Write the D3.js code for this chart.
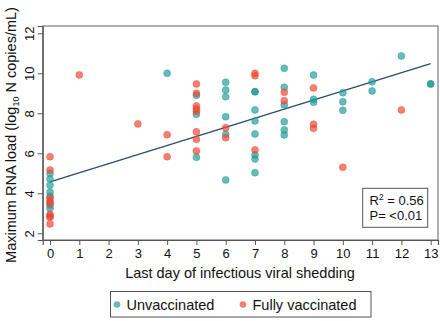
<!DOCTYPE html>
<html>
<head>
<meta charset="utf-8">
<script src="https://cdn.jsdelivr.net/npm/d3@7"></script>
<style>
  html, body { margin: 0; padding: 0; background: #fff; }
  svg { display: block; font-family: 'Liberation Sans', Arial, sans-serif; }
</style>
</head>
<body>
<div id="chart"></div>
<script>
// days of last infectious shedding and max RNA load (log10)
const unvaxDays = [0, 0, 0, 0, 0, 0, 0, 4, 5, 5, 5, 6, 6, 6, 6, 6, 6,
  7, 7, 7, 7, 7, 7, 7, 7, 8, 8, 8, 8, 8, 8, 9, 9, 9, 10, 10, 10, 11, 11, 12, 13, 13]
const unvaxLoad = [5.0, 4.72, 4.4, 4.05, 3.85, 3.42, 3.25, 10.0, 8.9, 7.95, 5.8,
  9.55, 9.17, 8.83, 7.83, 6.95, 4.67, 9.08, 9.08, 8.17, 7.62, 6.97, 5.92, 5.72, 5.03,
  10.25, 9.3, 8.42, 7.58, 7.17, 6.92, 9.92, 8.7, 8.55, 9.03, 8.58, 8.15, 9.58, 9.12,
  10.87, 9.47, 9.47]

const vaxDays = [0, 0, 0, 0, 0, 0, 0, 0, 0, 1, 3, 4, 4, 5, 5, 5, 5, 5, 5, 5, 5,
  6, 6, 7, 7, 7, 8, 8, 9, 9, 9, 10, 12]
const vaxLoad = [5.83, 5.17, 3.75, 3.6, 3.5, 2.95, 2.85, 2.8, 2.47, 9.92, 7.47, 6.93, 5.83,
  9.47, 9.0, 8.37, 8.22, 8.1, 7.08, 6.7, 6.12, 7.28, 6.78, 10.0, 9.88, 6.17,
  9.05, 8.63, 9.27, 7.45, 7.25, 5.3, 8.17]

const xTicks = d3.range(0, 14)
const yTicks = [2, 4, 6, 8, 10, 12]

// fitted line shown on the figure
const fitIntercept = 4.57
const fitSlope = 0.455
const fitRange = [0, 13]
const statLines = ['R', 'P= <0.01']

const groups = [
  { name: 'Unvaccinated', days: unvaxDays, load: unvaxLoad, color: '#1f9b96' },
  { name: 'Fully vaccinated', days: vaxDays, load: vaxLoad, color: '#ee4630' }
]

const width = 440
const height = 321
const m = { left: 42.7, right: 2, top: 26, bottom: 81 }

const svg = d3.select('#chart').append('svg')
  .attr('width', width)
  .attr('height', height)
  .attr('viewBox', `0 0 ${width} ${height}`)

const x = d3.scaleLinear().domain([-0.25, 13.25]).range([m.left, width - m.right])
const y = d3.scaleLinear().domain([1.665, 12.365]).range([height - m.bottom, m.top])

// frame
svg.append('rect')
  .attr('x', m.left).attr('y', m.top)
  .attr('width', width - m.right - m.left)
  .attr('height', height - m.bottom - m.top)
  .attr('fill', 'none').attr('stroke', '#7a7a7a').attr('stroke-width', 1.2)

const xAxis = svg.append('g')
  .attr('transform', `translate(0,${height - m.bottom})`)
  .call(d3.axisBottom(x).tickValues(xTicks).tickSize(5).tickPadding(4))
xAxis.select('.domain').attr('stroke', '#555').attr('stroke-width', 1.2)
xAxis.selectAll('.tick line').attr('stroke', '#555')
xAxis.selectAll('.tick text').attr('font-size', 13).attr('fill', '#111')
  .attr('font-family', "'Liberation Sans', Arial, sans-serif")

const yAxis = svg.append('g')
  .attr('transform', `translate(${m.left},0)`)
  .call(d3.axisLeft(y).tickValues(yTicks).tickSize(5).tickPadding(5))
yAxis.select('.domain').attr('stroke', '#555').attr('stroke-width', 1.2)
yAxis.selectAll('.tick line').attr('stroke', '#555')
yAxis.selectAll('.tick text')
  .attr('font-size', 13).attr('fill', '#111')
  .attr('font-family', "'Liberation Sans', Arial, sans-serif")
  .attr('x', null).attr('dy', null)
  .attr('text-anchor', 'middle')
  .attr('transform', 'translate(-13,0) rotate(-90)')
  .attr('dy', '0.36em')
  .attr('y', 0)

// axis titles
svg.append('text')
  .attr('x', 240).attr('y', 278)
  .attr('text-anchor', 'middle')
  .attr('font-size', 14.5).attr('fill', '#111')
  .text('Last day of infectious viral shedding')

const yTitle = svg.append('text')
  .attr('transform', `translate(16,${(m.top + height - m.bottom) / 2 + 2}) rotate(-90)`)
  .attr('text-anchor', 'middle')
  .attr('font-size', 14.5).attr('fill', '#111')
yTitle.append('tspan').text('Maximum RNA load (log')
yTitle.append('tspan').attr('font-size', 9).attr('dy', 3).text('10')
yTitle.append('tspan').attr('dy', -3).text(' N copies/mL)')

// regression line
svg.append('line')
  .attr('x1', x(fitRange[0])).attr('y1', y(fitIntercept + fitSlope * fitRange[0]))
  .attr('x2', x(fitRange[1])).attr('y2', y(fitIntercept + fitSlope * fitRange[1]))
  .attr('stroke', '#2e4d6b').attr('stroke-width', 1.4)

// points
groups.forEach(g => {
  svg.append('g').selectAll('circle')
    .data(g.days.map((d, i) => ({ d, v: g.load[i] })))
    .join('circle')
    .attr('cx', p => x(p.d))
    .attr('cy', p => y(p.v))
    .attr('r', 3.5)
    .attr('fill', g.color)
    .attr('fill-opacity', 0.68)
    .attr('stroke', g.color)
    .attr('stroke-opacity', 0.5)
    .attr('stroke-width', 0.8)
})

// stats box
const stat = svg.append('g')
stat.append('rect')
  .attr('x', 362.7).attr('y', 188.3).attr('width', 65).attr('height', 39)
  .attr('fill', '#fff').attr('stroke', '#555').attr('stroke-width', 1)
const r2 = stat.append('text').attr('x', 369.5).attr('y', 204.5)
  .attr('font-size', 13).attr('fill', '#111')
r2.append('tspan').text(statLines[0])
r2.append('tspan').attr('font-size', 8.5).attr('dy', -5).text('2')
r2.append('tspan').attr('dy', 5).text(' = 0.56')
stat.append('text').attr('x', 369.5).attr('y', 220)
  .attr('font-size', 13).attr('fill', '#111')
  .text(statLines[1])

// legend
const legend = svg.append('g')
legend.append('rect')
  .attr('x', 110.5).attr('y', 291.5).attr('width', 260.5).attr('height', 25.5)
  .attr('fill', '#fff').attr('stroke', '#555').attr('stroke-width', 1)
const legX = [117, 243]
groups.forEach((g, i) => {
  legend.append('circle')
    .attr('cx', legX[i]).attr('cy', 304.5).attr('r', 3.3)
    .attr('fill', g.color).attr('fill-opacity', 0.68)
  legend.append('text')
    .attr('x', legX[i] + 9.5).attr('y', 309.5)
    .attr('font-size', 14.5).attr('fill', '#111')
    .text(g.name)
})
</script>
</body>
</html>
